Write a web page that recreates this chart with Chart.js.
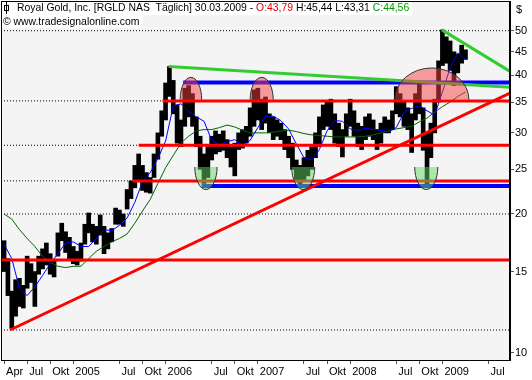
<!DOCTYPE html>
<html>
<head>
<meta charset="utf-8">
<script src="https://cdn.jsdelivr.net/npm/chart.js@4.4.1/dist/chart.umd.min.js"></script>
<style>
  html, body { margin: 0; padding: 0; background: #fff; }
</style>
</head>
<body>
<canvas id="rgldChart" width="532" height="380"></canvas>
<script>
// x values are months counted from Jan 2004 (12 = Jan 2005, 24 = Jan 2006 ...)
const firstBarMonth = 3;
const barStep = 0.5;
const lows = [
  15.0, 13.3, 11.3, 12.0, 12.6, 12.5, 13.8, 14.2, 12.6, 14.8, 15.2, 15.5, 14.8, 14.6, 16.2, 17.5, 16.5, 16.0,
  15.6, 15.5, 15.8, 17.2, 18.2, 17.4, 17.2, 18.0, 16.4, 16.8, 17.4, 19.0, 19.0, 18.8, 20.5, 21.6, 22.8, 23.5,
  22.5, 22.3, 22.2, 24.0, 26.3, 29.5, 32.0, 36.0, 33.0, 28.5, 28.0, 31.0, 32.5, 31.0, 28.0, 25.0, 23.3, 24.0,
  26.2, 27.0, 27.3, 27.5, 26.5, 25.3, 24.2, 27.6, 27.8, 28.5, 29.5, 31.0, 32.0, 30.5, 31.5, 30.0, 29.0, 29.5,
  29.0, 27.6, 26.5, 25.0, 23.5, 23.0, 23.5, 24.2, 25.0, 26.5, 28.0, 30.5, 31.0, 30.5, 28.5, 28.0, 26.6, 29.5,
  31.0, 29.5, 28.0, 27.6, 29.0, 29.5, 29.0, 27.6, 28.5, 30.0, 30.0, 30.5, 33.0, 32.5, 31.0, 30.5, 27.2, 32.0,
  33.0, 27.5, 22.8, 26.5, 30.0, 35.0, 42.0, 42.5, 41.0, 38.0, 40.5, 42.5, 43.31
];
const highs = [
  17.5, 16.0, 13.6, 14.4, 14.5, 14.0, 16.2, 15.6, 15.0, 16.2, 16.8, 17.3, 16.4, 15.8, 18.2, 19.1, 18.3, 17.8,
  17.0, 16.6, 17.3, 19.0, 20.1, 19.0, 18.8, 19.9, 18.8, 18.2, 18.6, 20.6, 20.4, 20.0, 22.6, 23.6, 25.5, 27.0,
  25.5, 24.6, 24.0, 27.0, 30.0, 33.5, 38.5, 41.8, 39.0, 34.5, 32.0, 37.5, 38.0, 36.5, 32.5, 29.5, 27.0, 28.0,
  29.5, 30.3, 29.8, 30.3, 29.0, 28.0, 28.5, 30.0, 30.5, 31.0, 34.0, 37.2, 37.5, 35.5, 35.9, 33.0, 32.5, 32.0,
  31.5, 30.5, 29.5, 28.5, 26.2, 25.5, 26.5, 27.5, 28.0, 30.0, 32.5, 34.5, 35.0, 35.5, 33.0, 31.5, 30.5, 33.0,
  35.5, 33.5, 31.5, 31.0, 32.5, 33.0, 32.0, 30.5, 31.5, 32.5, 32.0, 33.5, 37.8, 36.5, 35.0, 34.0, 33.0, 36.5,
  38.5, 34.0, 30.0, 31.5, 35.5, 43.0, 50.2, 48.5, 47.5, 45.0, 44.5, 46.5, 45.44
];

// moving averages, read once a month (month 3 .. 63)
const maFirstMonth = 3;
const fastMa = [
  17.2, 16.0, 13.8, 13.3, 13.9, 14.7, 15.6, 16.4, 17.3, 17.4, 17.0, 17.0, 17.7, 18.5, 18.4, 18.9, 19.6, 21.2,
  23.5, 24.6, 26.4, 28.8, 34.3, 34.7, 33.4, 32.5, 31.8, 28.9, 28.3, 28.7, 29.0, 28.2, 28.9, 30.8, 32.6, 32.6,
  31.9, 30.6, 28.4, 26.5, 26.2, 27.6, 30.3, 31.9, 31.8, 30.6, 30.4, 30.7, 30.5, 30.4, 30.2, 30.8, 33.2, 33.9,
  34.4, 33.5, 32.8, 36.8, 41.5, 44.7, 43.3
];
const slowMa = [
  20.0, 19.5, 18.5, 17.7, 17.0, 16.2, 15.7, 15.4, 15.3, 15.4, 15.4, 16.0, 16.6, 17.0, 17.4, 17.7, 18.1, 19.1,
  20.3, 21.5, 23.3, 25.2, 26.8, 28.5, 29.5, 30.3, 30.5, 30.5, 30.8, 31.2, 30.9, 30.4, 30.0, 30.0, 30.0, 30.1,
  30.3, 30.4, 30.2, 29.9, 29.7, 29.6, 29.5, 29.4, 29.4, 29.4, 29.4, 29.5, 29.7, 30.0, 30.3, 30.6, 30.8, 31.0,
  31.7, 32.3, 33.3, 34.2, 35.0, 36.0, 36.8
];

// drawn levels and trend lines
const gridLevels = [50, 35.2, 28.2, 23.6, 20, 11.2];
const redLevels = [35.2, 28.2, 23.6, 15.9];
const redLevelStart = [23.6, 20.5, 19.7, 2.6];
const blueLevels = [38.6, 23.0];
const blueLevelStart = [26.3, 28.7];
const redTrend = { months: [3.77, 68.79], values: [11.2, 36.6] };
const greenTrend = { months: [24.4, 68.79], values: [41.8, 37.7] };
const greenTrendTop = { months: [59.94, 68.79], values: [50.2, 40.8] };

// top domes and bottom bowls (months from/to, price levels)
const domeFrom = [25.9, 35.0, 53.8];
const domeTo = [28.7, 38.0, 63.45];
const domeBase = [35.4, 35.4, 35.4];
const domePeak = [39.6, 39.6, 41.5];
const bowlFrom = [27.8, 40.4, 56.4];
const bowlTo = [30.7, 43.4, 59.4];
const bowlTop = [25.3, 25.3, 25.3];
const bowlBottom = [22.6, 22.6, 22.6];

// axis
const xMin = 2.6, xMax = 68.79;
const tickMonths = [3, 6, 9, 12, 18, 21, 24, 30, 33, 36, 42, 45, 48, 54, 57, 60, 66];
const tickLabels = ['Apr', 'Jul', 'Okt', '2005', 'Jul', 'Okt', '2006', 'Jul', 'Okt', '2007',
  'Jul', 'Okt', '2008', 'Jul', 'Okt', '2009', 'Jul'];
const yTicks = [10, 15, 20, 25, 30, 35, 40, 45, 50];
const yMin = 9.64, yMax = 58.0;

const titleText = 'Royal Gold, Inc. [RGLD NAS  Täglich] 30.03.2009 - ';
const openText = 'O:43,79';
const hlText = ' H:45,44 L:43,31 ';
const closeText = 'C:44,56';
const creditText = '© www.tradesignalonline.com';

const FONT = '"Liberation Sans", Arial, sans-serif';

const bars = lows.map((lo, i) => ({ x: firstBarMonth + i * barStep, y: [lo, highs[i]] }));
const maPoints = arr => arr.map((v, i) => ({ x: maFirstMonth + i, y: v }));
const seg = (x0, x1, v0, v1) => [{ x: x0, y: v0 }, { x: x1, y: v1 }];

const lineDs = (data, color, width, order, dash) => ({
  type: 'line', data, borderColor: color, borderWidth: width, pointRadius: 0,
  tension: 0, fill: false, order, borderDash: dash || [], borderCapStyle: 'butt'
});

const datasets = [];
gridLevels.forEach(v => datasets.push(lineDs(seg(xMin, xMax, v, v), '#000', 1, 20, [1, 2])));
datasets.push({
  type: 'bar', data: bars, backgroundColor: '#000', borderWidth: 0,
  barThickness: 4, grouped: false, order: 15
});
datasets.push(lineDs(maPoints(slowMa), '#006400', 1, 12));
datasets.push(lineDs(maPoints(fastMa), '#0000ff', 1, 11));
redLevels.forEach((v, i) => datasets.push(lineDs(seg(redLevelStart[i], xMax, v, v), '#ff0000', 3, 6)));
blueLevels.forEach((v, i) => datasets.push(lineDs(seg(blueLevelStart[i], xMax, v, v), '#0000ff', 4, 5)));
datasets.push(lineDs(seg(redTrend.months[0], redTrend.months[1], redTrend.values[0], redTrend.values[1]), '#ff0000', 3, 4));
datasets.push(lineDs(seg(greenTrend.months[0], greenTrend.months[1], greenTrend.values[0], greenTrend.values[1]), '#33cc33', 3, 3));
datasets.push(lineDs(seg(greenTrendTop.months[0], greenTrendTop.months[1], greenTrendTop.values[0], greenTrendTop.values[1]), '#33cc33', 3, 3));

const backgroundPlugin = {
  id: 'background',
  beforeDraw(chart) {
    const { ctx, chartArea: a } = chart;
    ctx.save();
    ctx.fillStyle = '#fff';
    ctx.fillRect(0, 0, chart.width, chart.height);
    ctx.fillStyle = '#f4f4f4';
    ctx.fillRect(a.left, a.top, a.right - a.left, a.bottom - a.top);
    ctx.restore();
  }
};

const shapesPlugin = {
  id: 'shapes',
  afterDatasetsDraw(chart) {
    const { ctx, scales: { x, y } } = chart;
    ctx.save();
    ctx.lineWidth = 1;
    ctx.strokeStyle = '#333';
    domeFrom.forEach((f, i) => {
      const x0 = x.getPixelForValue(f), x1 = x.getPixelForValue(domeTo[i]);
      const by = y.getPixelForValue(domeBase[i]), ty = y.getPixelForValue(domePeak[i]);
      ctx.beginPath();
      ctx.ellipse((x0 + x1) / 2, by, (x1 - x0) / 2, by - ty, 0, Math.PI, 2 * Math.PI);
      ctx.fillStyle = 'rgba(246, 64, 64, 0.5)';
      ctx.fill();
      ctx.stroke();
    });
    bowlFrom.forEach((f, i) => {
      const x0 = x.getPixelForValue(f), x1 = x.getPixelForValue(bowlTo[i]);
      const ty = y.getPixelForValue(bowlTop[i]), by = y.getPixelForValue(bowlBottom[i]);
      ctx.beginPath();
      ctx.ellipse((x0 + x1) / 2, ty, (x1 - x0) / 2, by - ty, 0, 0, Math.PI);
      ctx.fillStyle = 'rgba(100, 216, 100, 0.5)';
      ctx.fill();
      ctx.stroke();
    });
    ctx.restore();
  }
};

const framePlugin = {
  id: 'frame',
  afterDraw(chart) {
    const { ctx, chartArea: a } = chart;
    ctx.save();
    ctx.strokeStyle = '#000';
    ctx.lineWidth = 1;
    ctx.strokeRect(a.left + 0.5, a.top + 0.5, a.right - a.left - 1, a.bottom - a.top);

    // header lines
    ctx.font = '10.4px ' + FONT;
    ctx.textBaseline = 'middle';
    const parts = [[titleText, '#000'], [openText, '#e00000'], [hlText, '#000'], [closeText, '#00a000']];
    const total = parts.reduce((s, p) => s + ctx.measureText(p[0]).width, 0);
    ctx.fillStyle = '#fff';
    ctx.fillRect(a.left + 1, a.top + 1, 16 + total + 2, 13);
    let tx = 17;
    parts.forEach(([t, c]) => {
      ctx.fillStyle = c;
      ctx.fillText(t, tx, 8);
      tx += ctx.measureText(t).width;
    });
    ctx.fillStyle = '#fff';
    ctx.fillRect(a.left + 1, 15, ctx.measureText(creditText).width + 4, 13);
    ctx.fillStyle = '#000';
    ctx.fillText(creditText, 3, 22);

    // small bar icon
    ctx.beginPath();
    ctx.moveTo(6.5, 2); ctx.lineTo(6.5, 14);
    ctx.stroke();
    ctx.strokeRect(4.5, 5.5, 4, 5);

    // currency mark
    ctx.font = '11px ' + FONT;
    ctx.fillText('$', 516, 10);
    ctx.restore();
  }
};

new Chart(document.getElementById('rgldChart'), {
  type: 'line',
  data: { datasets },
  options: {
    responsive: false,
    animation: false,
    devicePixelRatio: 1,
    layout: { padding: { left: 1, top: 1, right: 0, bottom: 0 } },
    plugins: { legend: { display: false }, tooltip: { enabled: false } },
    scales: {
      x: {
        type: 'linear', min: xMin, max: xMax, offset: false,
        afterBuildTicks: s => { s.ticks = tickMonths.map(v => ({ value: v })); },
        afterFit: s => { s.height = 20; s.paddingLeft = 0; s.paddingRight = 0; },
        ticks: {
          autoSkip: false, maxRotation: 0, align: 'start', labelOffset: 2, padding: 1,
          color: '#000', font: { family: FONT, size: 11 },
          callback: (v, i) => tickLabels[i]
        },
        grid: { offset: false, drawOnChartArea: false, drawTicks: true, tickLength: 4, color: '#555' },
        border: { display: true, color: '#000' }
      },
      y: {
        type: 'logarithmic', position: 'right', min: yMin, max: yMax,
        afterBuildTicks: s => { s.ticks = yTicks.map(v => ({ value: v })); },
        afterFit: s => { s.width = 22; s.paddingTop = 0; s.paddingBottom = 0; },
        ticks: {
          autoSkip: false, padding: 1, color: '#000', font: { family: FONT, size: 11 },
          callback: v => String(v)
        },
        grid: { drawOnChartArea: false, drawTicks: true, tickLength: 4, color: '#555' },
        border: { display: true, color: '#000' }
      }
    }
  },
  plugins: [backgroundPlugin, shapesPlugin, framePlugin]
});
</script>
</body>
</html>
